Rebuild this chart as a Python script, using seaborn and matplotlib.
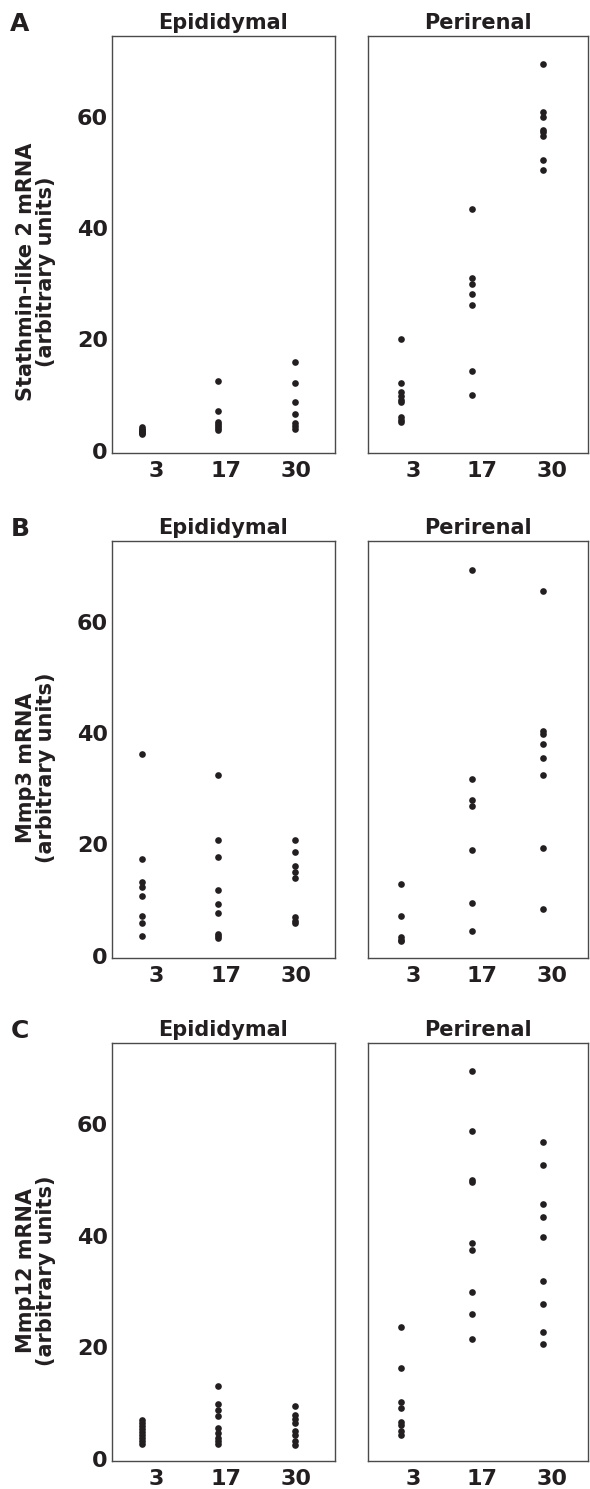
import pandas as pd
import seaborn as sns
import matplotlib.pyplot as plt

# days after treatment (categories on x)
days = ["3", "17", "30"]
depots = ["Epididymal", "Perirenal"]

# values, one list per (gene, depot, day)
stmn2_epi_d3 = [3.0, 3.2, 3.4, 3.6, 3.8, 4.0, 4.3]
stmn2_epi_d17 = [12.5, 7.1, 5.1, 4.8, 4.4, 4.1, 3.8]
stmn2_epi_d30 = [16.0, 12.1, 8.7, 6.6, 4.9, 4.4, 4.0]
stmn2_per_d3 = [20.0, 12.2, 10.5, 9.8, 9.2, 8.7, 6.1, 5.6, 5.2]
stmn2_per_d17 = [43.5, 31.0, 30.0, 28.2, 26.1, 14.4, 10.1]
stmn2_per_d30 = [69.5, 60.9, 59.9, 57.7, 57.2, 56.6, 52.2, 50.5]

mmp3_epi_d3 = [36.2, 17.4, 13.3, 12.4, 10.8, 7.1, 5.8, 3.6]
mmp3_epi_d17 = [32.4, 20.8, 17.8, 11.8, 9.3, 7.6, 3.9, 3.5, 3.2]
mmp3_epi_d30 = [20.8, 18.7, 16.1, 15.0, 13.9, 7.0, 6.3, 5.9]
mmp3_per_d3 = [12.9, 7.1, 3.3, 2.9, 2.6]
mmp3_per_d17 = [69.3, 31.8, 27.9, 26.9, 19.0, 9.4, 4.4]
mmp3_per_d30 = [65.5, 40.4, 39.8, 38.0, 35.5, 32.5, 19.4, 8.4]

mmp12_epi_d3 = [7.0, 6.4, 5.9, 5.3, 4.8, 4.3, 3.8, 3.2, 2.6]
mmp12_epi_d17 = [13.1, 9.8, 8.8, 7.7, 5.5, 4.7, 3.8, 3.2, 2.6]
mmp12_epi_d30 = [9.4, 7.9, 7.2, 6.4, 5.0, 4.3, 3.2, 2.5]
mmp12_per_d3 = [23.6, 16.2, 10.2, 9.1, 6.6, 6.0, 4.9, 4.2]
mmp12_per_d17 = [69.5, 58.8, 50.0, 49.6, 38.6, 37.4, 29.9, 26.0, 21.4]
mmp12_per_d30 = [56.7, 52.7, 45.7, 43.4, 39.8, 31.8, 27.7, 22.7, 20.6]

genes = ["Stathmin-like 2 mRNA", "Mmp3 mRNA", "Mmp12 mRNA"]
letters = ["A", "B", "C"]
yticks = [0, 20, 40, 60]

groups = {
    (0, 0): [stmn2_epi_d3, stmn2_epi_d17, stmn2_epi_d30],
    (0, 1): [stmn2_per_d3, stmn2_per_d17, stmn2_per_d30],
    (1, 0): [mmp3_epi_d3, mmp3_epi_d17, mmp3_epi_d30],
    (1, 1): [mmp3_per_d3, mmp3_per_d17, mmp3_per_d30],
    (2, 0): [mmp12_epi_d3, mmp12_epi_d17, mmp12_epi_d30],
    (2, 1): [mmp12_per_d3, mmp12_per_d17, mmp12_per_d30],
}

rows = []
for (g, d), lists in groups.items():
    for day, vals in zip(days, lists):
        for v in vals:
            rows.append({"gene": genes[g], "depot": depots[d], "day": day, "value": v})
df = pd.DataFrame(rows)

sns.set_style("white")
plt.rcParams["font.family"] = ["DejaVu Sans"]
plt.rcParams["font.weight"] = "bold"
ink = "#231f20"

fig = plt.figure(figsize=(5.9, 14.89), dpi=100)
W, H = 590, 1489
col_x = [(112, 223), (368, 220)]
row_y = [(36, 453), (541, 958), (1043, 1461)]
col_xlim = [(-0.394, 2.525), (-0.464, 2.63)]
col_ticks = [[0.19, 1.1, 2.02], [0.17, 1.14, 2.12]]
label_y = [0.434, 0.456, 0.455]

for r, gene in enumerate(genes):
    top, bot = row_y[r]
    for c, depot in enumerate(depots):
        x0, w = col_x[c]
        ax = fig.add_axes([x0 / W, 1 - bot / H, w / W, (bot - top) / H])
        sub = df[(df.gene == gene) & (df.depot == depot)]
        sns.stripplot(data=sub, x="day", y="value", order=days, jitter=False,
                      color=ink, size=4.8, linewidth=0, ax=ax)
        ax.set_xlim(*col_xlim[c])
        ax.set_ylim(-0.4, 74.5)
        ax.set_xticks(col_ticks[c])
        ax.set_xticklabels(days)
        ax.tick_params(axis="both", length=0, labelsize=16, colors=ink)
        ax.tick_params(axis="x", pad=6)
        ax.tick_params(axis="y", pad=3)
        for lab in ax.get_xticklabels() + ax.get_yticklabels():
            lab.set_fontweight("bold")
        for sp in ax.spines.values():
            sp.set_visible(True)
            sp.set_color("#4a4a4a")
            sp.set_linewidth(1.0)
        ax.set_title(depot, fontsize=15, fontweight="bold", color=ink, pad=5)
        ax.set_xlabel("")
        if c == 0:
            ax.set_yticks(yticks)
            ax.set_ylabel(gene + "\n(arbitrary units)", fontsize=15,
                          fontweight="bold", color=ink, linespacing=1.0)
            ax.yaxis.set_label_coords(-0.25, label_y[r])
        else:
            ax.set_yticks(yticks)
            ax.set_yticklabels([])
            ax.set_ylabel("")
    fig.text(20 / W, 1 - (top - 12) / H, letters[r], fontsize=18,
             fontweight="bold", color=ink, ha="center", va="center")

fig.savefig("out.png", dpi=100)
